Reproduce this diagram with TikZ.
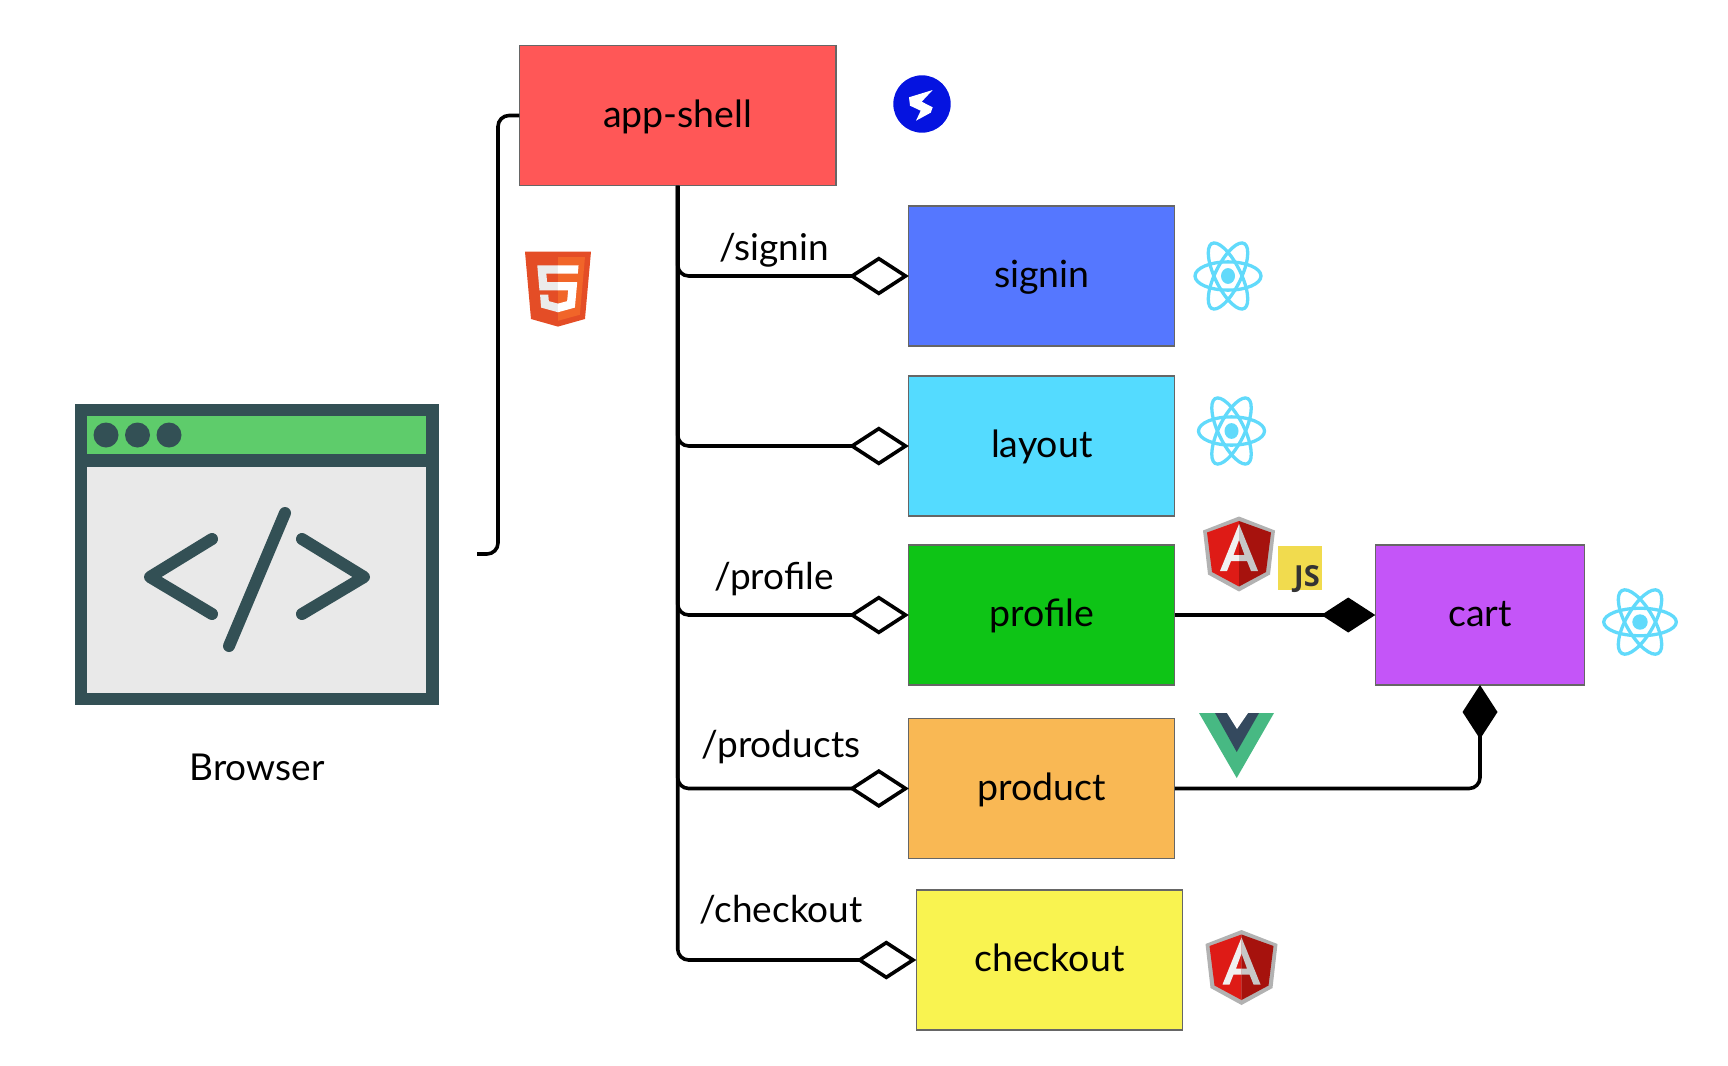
\documentclass[tikz,border=0pt]{standalone}
\usepackage{fontspec}
\setmainfont{Lato}
\newfontfamily\jsfont{Open Sans}
\usetikzlibrary{arrows.meta}

\definecolor{shellred}{HTML}{FF5757}
\definecolor{signinblue}{HTML}{5577FF}
\definecolor{layoutcyan}{HTML}{54DBFF}
\definecolor{profilegreen}{HTML}{0EC416}
\definecolor{cartpurple}{HTML}{C455F8}
\definecolor{productorange}{HTML}{F9B854}
\definecolor{checkoutyellow}{HTML}{F9F350}
\definecolor{reactcyan}{HTML}{61DAFB}
\definecolor{windowdark}{HTML}{335055}
\definecolor{windowgreen}{HTML}{5ECC6B}
\definecolor{windowgrey}{HTML}{E9E9E9}
\definecolor{angularleft}{HTML}{DE1B16}
\definecolor{angularright}{HTML}{A6120D}
\definecolor{htmlleft}{HTML}{E44D26}
\definecolor{htmlright}{HTML}{F16529}
\definecolor{jsyellow}{HTML}{F1DB4E}
\definecolor{vuegreen}{HTML}{47B983}
\definecolor{vuedark}{HTML}{34495E}
\definecolor{boltblue}{HTML}{0513E0}

\tikzset{
  appbox/.style={draw=black!60,line width=1.2pt,outer sep=0pt,font=\fontsize{37.5}{44}\selectfont,
    text height=30.5pt,text depth=7pt,align=center},
  linklabel/.style={anchor=base,font=\fontsize{37}{44}\selectfont},
  link/.style={line width=3.6pt,rounded corners=11pt},
  lazy/.style={link,-{Diamond[open,length=60pt,width=39pt,line width=3.6pt]}},
  owned/.style={link,-{Diamond[length=54pt,width=35pt]}},
  atom/.pic={
    \draw[reactcyan,line width=3.3pt] (0,0) ellipse (33 and 12.5);
    \draw[reactcyan,line width=3.3pt,rotate=60] (0,0) ellipse (33 and 12.5);
    \draw[reactcyan,line width=3.3pt,rotate=-60] (0,0) ellipse (33 and 12.5);
    \fill[reactcyan] (0,0) circle (7);
  },
  angular/.pic={
    \fill[black!30] (0,-37.5) -- (36,-23.5) -- (31,20.5) -- (0,37.5) -- (-31,20.5) -- (-36,-23.5) -- cycle;
    \fill[angularleft] (0,-33) -- (0,32.5) -- (-27,18) -- (-32,-21.5) -- cycle;
    \fill[angularright] (0,-33) -- (32,-21.5) -- (27,18) -- (0,32.5) -- cycle;
    \fill[black!6] (0,-30) -- (-19,17) -- (-12,17) -- (-8,7) -- (0,7) -- (0,1) -- (-5.5,1) -- (0,-14) -- cycle;
    \fill[black!22] (0,-30) -- (19,17) -- (12,17) -- (8,7) -- (0,7) -- (0,1) -- (5.5,1) -- (0,-14) -- cycle;
  },
}

\begin{document}
\begin{tikzpicture}[x=1pt,y=-1pt]
\useasboundingbox (0,0) rectangle (1728,1065);

% browser window
\fill[windowdark] (75,404) rectangle (439,705);
\fill[windowgreen] (87,416) rectangle (426,454);
\fill[windowgrey] (87,467) rectangle (426,693);
\foreach \x in {106,137.5,169}
  \fill[windowdark] (\x,435) circle (12.5);
\draw[windowdark,line width=12pt,line cap=round,line join=round] (212,539) -- (150,577) -- (212,614);
\draw[windowdark,line width=12pt,line cap=round,line join=round] (302,539) -- (364,577) -- (302,614);
\draw[windowdark,line width=12pt,line cap=round] (285,513) -- (229,646);
\node (browserlabel) [linklabel] at (257,780) {Browser};

% boxes
\node (appshell) [appbox,fill=shellred,minimum width=316.5pt,minimum height=140.5pt] at (677.7,115.5) {app-shell};
\node (signin) [appbox,fill=signinblue,minimum width=266pt,minimum height=140pt] at (1041.8,276) {signin};
\node (layout) [appbox,fill=layoutcyan,minimum width=266pt,minimum height=140pt] at (1041.8,446) {layout};
\node (profile) [appbox,fill=profilegreen,minimum width=266pt,minimum height=140pt] at (1041.8,615) {profile};
\node (product) [appbox,fill=productorange,minimum width=266pt,minimum height=140pt] at (1041.8,788.5) {product};
\node (checkout) [appbox,fill=checkoutyellow,minimum width=266pt,minimum height=140pt] at (1049.3,960) {checkout};
\node (cart) [appbox,fill=cartpurple,minimum width=209.5pt,minimum height=140pt] at (1480,615) {cart};

% connectors
\coordinate (browserend) at (477,554);
\draw[link] (browserend) -| (498,115.5) -- (appshell.west);
\draw[lazy] (appshell.south) |- (signin.west);
\draw[lazy] (appshell.south) |- (layout.west);
\draw[lazy] (appshell.south) |- (profile.west);
\draw[lazy] (appshell.south) |- (product.west);
\draw[lazy] (appshell.south) |- (checkout.west);
\draw[owned] (profile.east) -- (cart.west);
\draw[owned] (product.east) -| (cart.south);

\node (signinlabel) [linklabel] at (774,260) {/signin};
\node (profilelabel) [linklabel] at (774,589) {/profile};
\node (productslabel) [linklabel] at (781,757) {/products};
\node (checkoutlabel) [linklabel] at (781,922) {/checkout};

% logos
\pic[yscale=1.13] at (1228,276) {atom};
\pic[yscale=1.13] at (1231.5,431) {atom};
\pic[scale=1.1] at (1640,622) {atom};
\pic at (1239,554) {angular};
\pic at (1241.5,967.5) {angular};

% stencil
\begin{scope}[shift={(520.6,251.7)},scale=0.1463]
\fill[htmlleft] (71,460) -- (30,0) -- (481,0) -- (440,460) -- (255,512) -- cycle;
\fill[htmlright] (256,472) -- (405,431) -- (440,37) -- (256,37) -- cycle;
\fill[black!8] (256,208) -- (181,208) -- (176,150) -- (256,150) -- (256,94) -- (114,94) -- (129,265) -- (256,265) -- cycle;
\fill[black!8] (256,355) -- (193,338) -- (189,293) -- (133,293) -- (140,382) -- (256,414) -- cycle;
\fill[white] (255,208) -- (255,265) -- (325,265) -- (318,338) -- (255,355) -- (255,414) -- (371,382) -- (387,208) -- cycle;
\fill[white] (255,94) -- (255,150) -- (391,150) -- (396,94) -- cycle;
\end{scope}

% js
\fill[jsyellow] (1278,546) rectangle (1322,590);
\node (jstext) [anchor=base east,inner sep=0pt,text=black!80,font=\jsfont\fontsize{29}{32}\bfseries\selectfont] at (1320,586) {JS};

% vue
\fill[vuegreen] (1199,713) -- (1274,713) -- (1236.7,778) -- cycle;
\fill[vuedark] (1215,713) -- (1259,713) -- (1236.7,752) -- cycle;
\fill[white] (1227,713) -- (1248,713) -- (1237,729) -- cycle;

% bolt
\fill[boltblue] (922,104) circle (28.7);
\fill[white] (932.7,90) -- (909,97.3) -- (910,105.7) -- (920.7,110.7) -- (916,120.7) -- (930.7,112.7) -- (932.7,107.3) -- (921.7,101.7) -- cycle;
\end{tikzpicture}
\end{document}
